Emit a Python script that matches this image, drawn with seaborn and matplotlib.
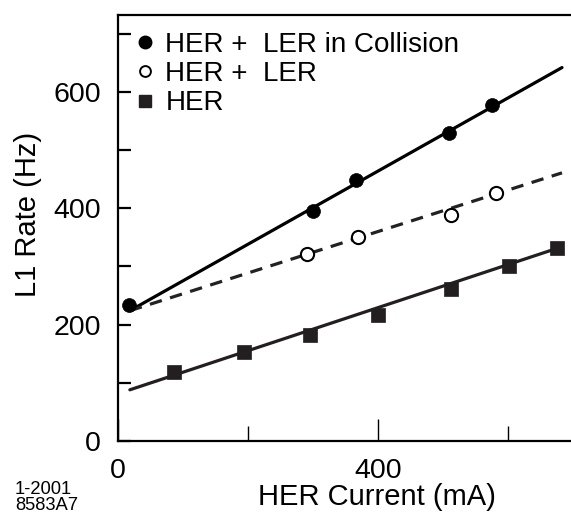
import numpy as np
import pandas as pd
import matplotlib
matplotlib.use("Agg")
import matplotlib.pyplot as plt
from matplotlib.lines import Line2D
from matplotlib.ticker import FixedLocator
import seaborn as sns

# HER + LER in collision (filled circles)
coll_current = [18, 300, 366, 510, 576]
coll_rate = [233, 396, 448, 529, 578]
# HER + LER, beams separated (open circles)
sep_current = [291, 370, 512, 582]
sep_rate = [321, 350, 389, 427]
# HER only (squares)
her_current = [87, 194, 296, 400, 513, 601, 676]
her_rate = [119, 153, 182, 217, 261, 301, 331]

# straight-line fits, given by their end points
fit_current = [19, 683]
coll_fit = [224, 642]
sep_fit = [224, 461]
her_fit = [88, 334]

legend_labels = ["HER +  LER in Collision", "HER +  LER", "HER"]
x_label = "HER Current (mA)"
y_label = "L1 Rate (Hz)"
x_ticklabels = ["0", "400"]
y_ticklabels = ["0", "200", "400", "600"]
stamp = "1-2001\n8583A7"

sns.set_style("white")
plt.rcParams["font.family"] = ["Liberation Sans", "DejaVu Sans"]
plt.rcParams.update({
    "text.color": "black",
    "axes.labelcolor": "black",
    "xtick.color": "black",
    "ytick.color": "black",
})

INK = "black"
SQ = "#231f20"
FS_TICK = 20.5
FS_LABEL = 21
FS_LEG = 20

fig = plt.figure(figsize=(5.71, 5.14), dpi=100)
W, H = 571, 514
ax_left, ax_right, ax_top, ax_bot = 117.5, 571, 15, 441
ax = fig.add_axes([ax_left / W, 1 - ax_bot / H,
                   (ax_right - ax_left) / W, (ax_bot - ax_top) / H])

fits = pd.DataFrame({
    "current": fit_current * 3,
    "rate": coll_fit + sep_fit + her_fit,
    "series": ["coll"] * 2 + ["sep"] * 2 + ["her"] * 2,
})
sns.lineplot(data=fits[fits.series == "coll"], x="current", y="rate",
             color=INK, lw=2.3, ax=ax, zorder=2)
sns.lineplot(data=fits[fits.series == "sep"], x="current", y="rate",
             color="#222222", lw=2.3, ax=ax, zorder=2,
             dashes=False, linestyle=(0, (3.9, 2.7)))
sns.lineplot(data=fits[fits.series == "her"], x="current", y="rate",
             color=SQ, lw=2.3, ax=ax, zorder=2)

sns.scatterplot(x=coll_current, y=coll_rate, marker="o", s=100,
                color=INK, edgecolor=INK, linewidth=0.5, ax=ax, zorder=3)
sns.scatterplot(x=sep_current, y=sep_rate, marker="o", s=90,
                facecolor="white", edgecolor=INK, linewidth=1.5, ax=ax, zorder=3)
sns.scatterplot(x=her_current, y=her_rate, marker="s", s=112,
                color=SQ, edgecolor=SQ, linewidth=0.5, ax=ax, zorder=3)

ax.set_xlim(0, (ax_right - ax_left) / 0.6508)
ax.set_ylim(0, (ax_bot - ax_top) / 0.5817)

ax.xaxis.set_major_locator(FixedLocator([0, 400]))
ax.xaxis.set_minor_locator(FixedLocator([200, 600]))
ax.set_xticklabels(x_ticklabels)
ax.yaxis.set_major_locator(FixedLocator([0, 200, 400, 600]))
ax.yaxis.set_minor_locator(FixedLocator([100, 300, 500, 700]))
ax.set_yticklabels(y_ticklabels)

ax.tick_params(axis="x", which="major", direction="in", length=15.6, width=1.0,
               color=INK, labelcolor=INK, labelsize=FS_TICK, pad=12, bottom=True)
ax.tick_params(axis="x", which="minor", direction="in", length=10.8, width=1.0,
               color=INK, bottom=True)
ax.tick_params(axis="y", which="both", direction="in", length=9.4, width=1.6,
               color=INK, labelcolor=INK, labelsize=FS_TICK, pad=12, left=True)

for side in ["left", "bottom", "top"]:
    ax.spines[side].set_visible(True)
    ax.spines[side].set_color(INK)
    ax.spines[side].set_linewidth(1.6)
ax.spines["right"].set_visible(False)

ax.set_xlabel(x_label, fontsize=FS_LABEL, va="center", color=INK)
ax.xaxis.set_label_coords((377 - ax_left) / (ax_right - ax_left),
                          (ax_bot - 497) / (ax_bot - ax_top))
ax.set_ylabel(y_label, fontsize=FS_LABEL, va="center", color=INK)
ax.yaxis.set_label_coords((28.5 - ax_left) / (ax_right - ax_left),
                          (ax_bot - 214) / (ax_bot - ax_top))

handles = [
    Line2D([], [], ls="none", marker="o", ms=9.0, mfc=INK, mec=INK),
    Line2D([], [], ls="none", marker="o", ms=7.8, mfc="white", mec=INK, mew=1.4),
    Line2D([], [], ls="none", marker="s", ms=8.0, mfc=SQ, mec=SQ),
]
leg = fig.legend(handles, legend_labels, loc="upper left",
                 bbox_to_anchor=(137 / W, 1 - 31.5 / H), frameon=False,
                 fontsize=FS_LEG, handlelength=0.6, handletextpad=0.42,
                 labelspacing=0.126, borderpad=0, borderaxespad=0)
for t in leg.get_texts():
    t.set_color(INK)

fig.text(15 / W, 1 - 481 / H, stamp, fontsize=13.2, va="top", ha="left",
         linespacing=0.95, color=INK)

fig.savefig("out.png", dpi=100)
